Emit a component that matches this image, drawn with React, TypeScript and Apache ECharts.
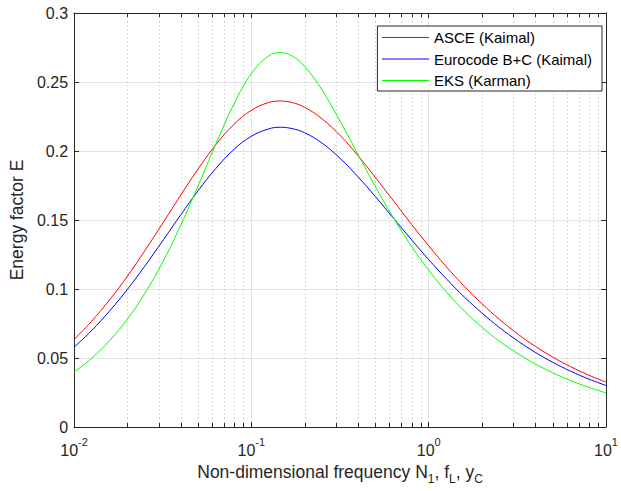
import React, { useEffect, useRef } from "react";
import * as echarts from "echarts";

// Non-dimensional frequency (x) sample positions
const xValues = [0.01, 0.0125, 0.016, 0.02, 0.025, 0.032, 0.04, 0.05, 0.063, 0.08, 0.1, 0.125, 0.146, 0.17, 0.2, 0.25, 0.32, 0.4, 0.5, 0.63, 0.8, 1, 1.25, 1.6, 2, 2.5, 3.2, 4, 5, 6.3, 8, 10];
// Energy factor E read for each curve
const asce = [0.0634, 0.0763, 0.0927, 0.1093, 0.1275, 0.1487, 0.1681, 0.1869, 0.2045, 0.2195, 0.2295, 0.2351, 0.2362, 0.2351, 0.2316, 0.2234, 0.2106, 0.1965, 0.1809, 0.1642, 0.1469, 0.1313, 0.1165, 0.1015, 0.0892, 0.0781, 0.0671, 0.0584, 0.0507, 0.0438, 0.0375, 0.0325];
const eurocode = [0.0578, 0.0696, 0.0846, 0.0998, 0.1164, 0.1359, 0.1538, 0.1711, 0.1873, 0.2013, 0.2107, 0.216, 0.2172, 0.2162, 0.2132, 0.2058, 0.1941, 0.1812, 0.167, 0.1516, 0.1357, 0.1213, 0.1077, 0.0938, 0.0825, 0.0722, 0.0621, 0.054, 0.0469, 0.0405, 0.0347, 0.0301];
const eks = [0.0398, 0.0495, 0.0631, 0.0782, 0.0965, 0.1208, 0.1463, 0.1746, 0.205, 0.2344, 0.2561, 0.2688, 0.2713, 0.2688, 0.2612, 0.2443, 0.2205, 0.1973, 0.1742, 0.1519, 0.1309, 0.1136, 0.0983, 0.0836, 0.0722, 0.0623, 0.0529, 0.0456, 0.0393, 0.0337, 0.0287, 0.0247];

const seriesNames = ["ASCE (Kaimal)", "Eurocode B+C (Kaimal)", "EKS (Karman)"];
const seriesColors = ["#ff0000", "#0000ff", "#00ff00"];
const seriesValues = [asce, eurocode, eks];

// Minor log ticks (2..9 per decade)
const minorTicks = [0.02, 0.03, 0.04, 0.05, 0.06, 0.07, 0.08, 0.09, 0.2, 0.3, 0.4, 0.5, 0.6, 0.7, 0.8, 0.9, 2, 3, 4, 5, 6, 7, 8, 9];

const X_MIN = 0.01;
const X_MAX = 10;
const Y_MIN = 0;
const Y_MAX = 0.3;
const Y_STEP = 0.05;

const FONT = "'Liberation Sans', Arial, Helvetica, sans-serif";
const AX = "#262626";

export default function App() {
  const ref = useRef<HTMLDivElement>(null);

  useEffect(() => {
    if (!ref.current) return;
    const chart = echarts.init(ref.current, undefined, { renderer: "svg" });

    const lineSeries = seriesNames.map((name, i) => ({
      name,
      type: "line",
      xAxisIndex: 0,
      yAxisIndex: 0,
      data: xValues.map((x, k) => [x, seriesValues[i][k]]),
      symbol: "none",
      smooth: 0.4,
      color: seriesColors[i],
      lineStyle: { color: seriesColors[i], width: 1 },
      itemStyle: { color: seriesColors[i] },
      z: 3,
    }));

    const minorSeries = {
      name: "minor",
      type: "custom",
      xAxisIndex: 0,
      yAxisIndex: 0,
      silent: true,
      z: 1,
      data: minorTicks.map((x) => [x, Y_MIN]),
      renderItem: (_params: any, api: any) => {
        const x = api.value(0);
        const b = api.coord([x, Y_MIN]);
        const t = api.coord([x, Y_MAX]);
        const px = Math.round(b[0]) + 0.5;
        return {
          type: "group",
          children: [
            {
              type: "line",
              shape: { x1: px, y1: b[1], x2: px, y2: t[1] },
              style: { stroke: "#dcdcdc", lineWidth: 1, lineDash: [2, 2] },
            },
            {
              type: "line",
              shape: { x1: px, y1: b[1], x2: px, y2: b[1] - 4 },
              style: { stroke: AX, lineWidth: 1 },
            },
            {
              type: "line",
              shape: { x1: px, y1: t[1], x2: px, y2: t[1] + 4 },
              style: { stroke: AX, lineWidth: 1 },
            },
          ],
        };
      },
    };

    const option: any = {
      animation: false,
      backgroundColor: "#ffffff",
      color: seriesColors,
      textStyle: { fontFamily: FONT },
      grid: { left: 71, right: 13, top: 13, bottom: 64, containLabel: false },
      legend: {
        data: seriesNames.map((n, i) => ({
          name: n,
          lineStyle: { color: seriesColors[i], width: 1.2 },
          itemStyle: { color: seriesColors[i], opacity: 0 },
        })),
        orient: "vertical",
        right: 19,
        top: 26,
        itemWidth: 47,
        itemHeight: 13,
        itemGap: 6.5,
        padding: [4, 10, 3, 4],
        backgroundColor: "#ffffff",
        borderColor: AX,
        borderWidth: 1,
        borderRadius: 0,
        itemStyle: { opacity: 0 },
        lineStyle: { width: 1.2 },
        textStyle: { fontSize: 15, color: "#000000", fontFamily: FONT },
      },
      xAxis: [
        {
          type: "log",
          logBase: 10,
          min: X_MIN,
          max: X_MAX,
          position: "bottom",
          axisLine: { show: true, onZero: false, lineStyle: { color: AX, width: 1 } },
          axisTick: { show: true, inside: true, length: 5, lineStyle: { color: AX } },
          splitLine: { show: true, lineStyle: { color: "#e3e3e3", width: 1 } },
          axisLabel: {
            margin: 7,
            formatter: (v: number) => `{b|10}{s|${Math.round(Math.log10(v))}}`,
            rich: {
              b: { fontSize: 16, color: AX, fontFamily: FONT, padding: [8, 0, 0, 0] },
              s: { fontSize: 11, color: AX, fontFamily: FONT, padding: [0, 0, 8, 0] },
            },
          },
          name: "{n|Non-dimensional frequency N}{sub|1}{n|, f}{sub|L}{n|, y}{sub|C}",
          nameLocation: "middle",
          nameGap: 31,
          nameTextStyle: {
            rich: {
              n: { fontSize: 17.5, color: AX, fontFamily: FONT, padding: [0, 0, 6, 0] },
              sub: { fontSize: 12, color: AX, fontFamily: FONT, padding: [8, 0, 0, 0] },
            },
          },
        },
        {
          type: "log",
          logBase: 10,
          min: X_MIN,
          max: X_MAX,
          position: "top",
          axisLine: { show: true, onZero: false, lineStyle: { color: AX, width: 1 } },
          axisTick: { show: true, inside: true, length: 5, lineStyle: { color: AX } },
          axisLabel: { show: false },
          splitLine: { show: false },
        },
      ],
      yAxis: [
        {
          type: "value",
          min: Y_MIN,
          max: Y_MAX,
          interval: Y_STEP,
          position: "left",
          axisLine: { show: true, onZero: false, lineStyle: { color: AX, width: 1 } },
          axisTick: { show: true, inside: true, length: 5, lineStyle: { color: AX } },
          splitLine: { show: true, lineStyle: { color: "#e3e3e3", width: 1 } },
          axisLabel: {
            margin: 6,
            fontSize: 16,
            color: AX,
            fontFamily: FONT,
            formatter: (v: number) => String(+v.toFixed(2)),
          },
          name: "Energy factor E",
          nameLocation: "middle",
          nameGap: 37,
          nameTextStyle: { fontSize: 17.5, color: AX, fontFamily: FONT },
        },
        {
          type: "value",
          min: Y_MIN,
          max: Y_MAX,
          interval: Y_STEP,
          position: "right",
          axisLine: { show: true, onZero: false, lineStyle: { color: AX, width: 1 } },
          axisTick: { show: true, inside: true, length: 5, lineStyle: { color: AX } },
          axisLabel: { show: false },
          splitLine: { show: false },
        },
      ],
      series: [minorSeries, ...lineSeries],
    };

    chart.setOption(option);
    return () => chart.dispose();
  }, []);

  return (
    <div
      ref={ref}
      style={{ position: "fixed", left: 0, top: 0, width: 621, height: 491, background: "#fff" }}
    />
  );
}
